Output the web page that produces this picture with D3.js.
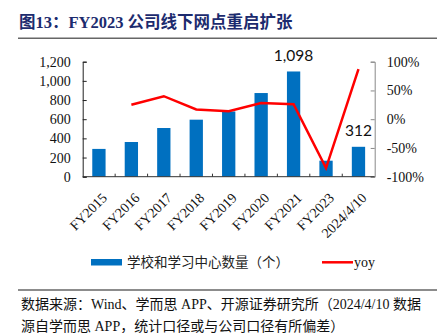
<!DOCTYPE html>
<html><head><meta charset="utf-8">
<script src="https://cdn.jsdelivr.net/npm/d3@7"></script>
<style>body{margin:0;background:#fff}svg{display:block}</style>
</head><body><svg id="chart" width="437" height="333"></svg>
<script>
// Offline school / learning-centre count and its year-on-year change
const categories = ["FY2015","FY2016","FY2017","FY2018","FY2019","FY2020","FY2021","FY2023","2024/4/10"];
const schoolCounts = [290, 362, 508, 595, 681, 873, 1098, 167, 312];
const yoyPct = [null, 25, 40, 17, 14, 28, 26, -85, 87];
const leftTicks = [0, 200, 400, 600, 800, 1000, 1200];
const rightTicks = [-100, -50, 0, 50, 100];
const labeledBars = ["FY2021", "2024/4/10"];

const serif = "'Liberation Serif','Times New Roman','Noto Sans CJK SC',serif";
const cjk = "'Liberation Serif','Noto Sans CJK SC',serif";

const svg = d3.select("#chart");
const plot = {left: 82.7, right: 374.7, top: 61.7, bottom: 176.7};

// Title and rule
svg.append("text").attr("x", 19).attr("y", 28)
  .attr("font-family", cjk).attr("font-weight", "bold").attr("font-size", 16.5)
  .attr("fill", "#1c2b6e").text("图13：FY2023 公司线下网点重启扩张");
svg.append("line").attr("x1", 18).attr("x2", 437).attr("y1", 38.3).attr("y2", 38.3)
  .attr("stroke", "#666").attr("stroke-width", 1.5);

// Scales
const x = d3.scaleBand().domain(categories).range([plot.left, plot.right])
  .paddingInner(0.59).paddingOuter(0.295);
const yL = d3.scaleLinear().domain([0, 1200]).range([plot.bottom, plot.top]);
const yR = d3.scaleLinear().domain([-100, 100]).range([plot.bottom, plot.top]);
const step = x.step();
const cx = c => x(c) + x.bandwidth() / 2;

// Bars
svg.append("g").selectAll("rect").data(categories).join("rect")
  .attr("x", d => x(d)).attr("width", x.bandwidth())
  .attr("y", (d, i) => yL(schoolCounts[i]))
  .attr("height", (d, i) => yL(0) - yL(schoolCounts[i]))
  .attr("fill", "#0070c0");

// Value labels
svg.append("g").selectAll("text").data(labeledBars).join("text")
  .attr("x", d => cx(d))
  .attr("y", d => yL(schoolCounts[categories.indexOf(d)]) - 10.5)
  .attr("text-anchor", "middle").attr("font-family", "Lato,'Open Sans',sans-serif")
  .attr("font-size", 15.5).attr("fill", "#111")
  .text(d => d3.format(",")(schoolCounts[categories.indexOf(d)]));

// Left axis
const axL = svg.append("g").attr("transform", `translate(${plot.left},0)`)
  .call(d3.axisLeft(yL).tickValues(leftTicks).tickSize(-4).tickPadding(12).tickFormat(d3.format(",")));
axL.select(".domain").attr("stroke", "#222");
axL.selectAll(".tick line").attr("stroke", "#222");
axL.selectAll("text").attr("font-family", serif).attr("font-size", 14).attr("fill", "#111");

// Right axis
const axR = svg.append("g").attr("transform", `translate(${plot.right},0)`)
  .call(d3.axisRight(yR).tickValues(rightTicks).tickSize(-4).tickPadding(12).tickFormat(d => d + "%"));
axR.select(".domain").attr("stroke", "#888");
axR.selectAll(".tick line").attr("stroke", "#888");
axR.selectAll("text").attr("font-family", serif).attr("font-size", 14).attr("fill", "#111");

// Bottom axis with short separators between categories
const gB = svg.append("g");
gB.append("line").attr("x1", plot.left).attr("x2", plot.right)
  .attr("y1", plot.bottom).attr("y2", plot.bottom).attr("stroke", "#333");
gB.selectAll("line.sep").data(categories.slice(1)).join("line").attr("class", "sep")
  .attr("x1", d => x(d) - step * x.paddingInner() / 2).attr("x2", d => x(d) - step * x.paddingInner() / 2)
  .attr("y1", plot.bottom).attr("y2", plot.bottom - 3).attr("stroke", "#333");
gB.selectAll("text").data(categories).join("text")
  .attr("transform", d => `translate(${cx(d) + 9},${plot.bottom + 22}) rotate(-45)`)
  .attr("text-anchor", "end").attr("font-family", serif).attr("font-size", 14).attr("fill", "#111")
  .text(d => d);

// YoY line
const line = d3.line().defined(d => d.v != null).x(d => cx(d.c)).y(d => yR(d.v));
svg.append("path").datum(categories.map((c, i) => ({c, v: yoyPct[i]})))
  .attr("d", line).attr("fill", "none").attr("stroke", "#ff0000").attr("stroke-width", 2.5)
  .attr("stroke-linejoin", "miter");

// Legend
const lg = svg.append("g");
lg.append("rect").attr("x", 91).attr("y", 259).attr("width", 31).attr("height", 6.5).attr("fill", "#0070c0");
lg.append("text").attr("x", 127).attr("y", 267).attr("font-family", cjk).attr("font-size", 13.5)
  .attr("fill", "#222").text("学校和学习中心数量（个）");
lg.append("line").attr("x1", 322).attr("x2", 353).attr("y1", 262.3).attr("y2", 262.3)
  .attr("stroke", "#ff0000").attr("stroke-width", 2.5);
lg.append("text").attr("x", 354).attr("y", 266.5).attr("font-family", serif).attr("font-size", 14)
  .attr("fill", "#111").text("yoy");

// Source note
svg.append("line").attr("x1", 18).attr("x2", 437).attr("y1", 290).attr("y2", 290)
  .attr("stroke", "#666").attr("stroke-width", 1.5);
const note = svg.append("text").attr("font-family", cjk).attr("font-size", 14).attr("fill", "#111");
note.append("tspan").attr("x", 21).attr("y", 309).text("数据来源：Wind、学而思 APP、开源证券研究所（2024/4/10 数据");
note.append("tspan").attr("x", 21).attr("y", 331).text("源自学而思 APP，统计口径或与公司口径有所偏差）");
</script></body></html>
